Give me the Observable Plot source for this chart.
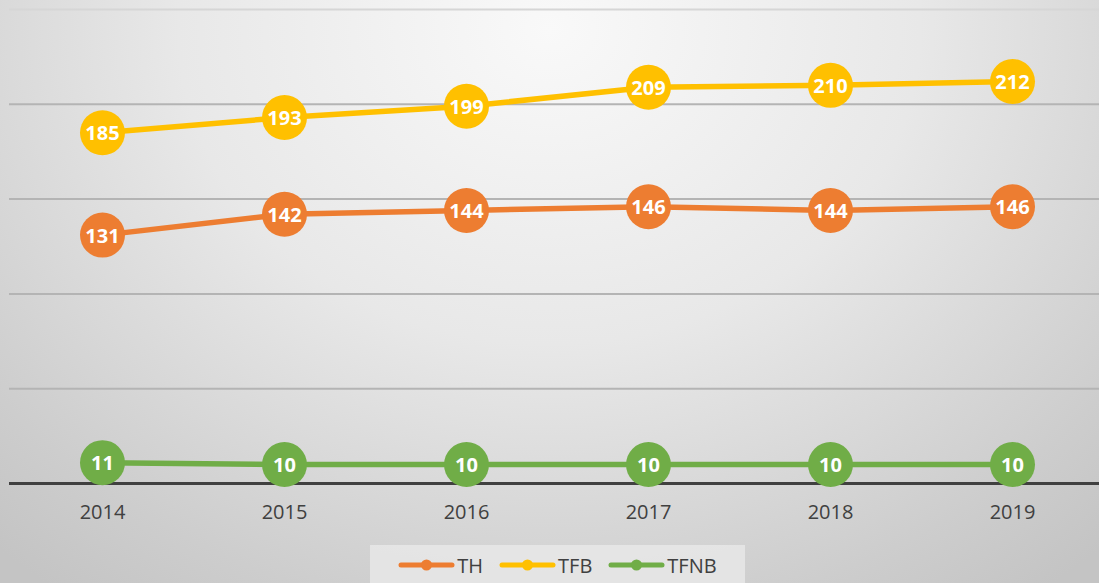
<!DOCTYPE html>
<html>
<head>
<meta charset="utf-8">
<script src="https://cdn.jsdelivr.net/npm/d3@7"></script>
<script src="https://cdn.jsdelivr.net/npm/@observablehq/plot@0.6"></script>
<style>
  html, body { margin: 0; padding: 0; width: 1099px; height: 583px; overflow: hidden; }
  body {
    background: radial-gradient(ellipse 75% 120% at 50% 5%, #f9f9f9 0%, #e8e8e8 45%, #cdcdcd 85%, #c4c4c4 100%);
    font-family: "Open Sans", sans-serif;
    position: relative;
  }
  #chart svg { display: block; background: transparent; }
  #legend {
    position: absolute; left: 370px; top: 545px; width: 375px; height: 40px;
    background: rgba(232,232,232,0.85);
    display: flex; align-items: center; justify-content: center; gap: 0;
    font-size: 20px; color: #404040;
  }
  .item { display: flex; align-items: center; margin-right: 16px; }
  .item:last-child { margin-right: 0; }
  .item svg { margin-right: 2px; }
</style>
</head>
<body>
<div id="chart"></div>
<div id="legend"></div>
<script>
const years = ["2014", "2015", "2016", "2017", "2018", "2019"];
const seriesNames = ["TH", "TFB", "TFNB"];
const seriesColors = ["#ED7D31", "#FFC000", "#70AD47"];
const TH = [131, 142, 144, 146, 144, 146];
const TFB = [185, 193, 199, 209, 210, 212];
const TFNB = [11, 10, 10, 10, 10, 10];
const gridValues = [50, 100, 150, 200, 250];

const seriesValues = [TH, TFB, TFNB];
const data = [];
seriesNames.forEach((s, i) => {
  years.forEach((y, j) => data.push({series: s, year: y, value: seriesValues[i][j]}));
});

const plot = Plot.plot({
  width: 1099,
  height: 540,
  marginTop: 9,
  marginBottom: 57,
  marginLeft: 9,
  marginRight: 0,
  style: {background: "transparent", fontFamily: "'Open Sans', sans-serif"},
  x: {type: "point", domain: years, range: [101, 1013], padding: 0, label: null},
  y: {domain: [0, 250], axis: null},
  color: {domain: seriesNames, range: seriesColors},
  marks: [
    Plot.ruleY(gridValues, {stroke: (d) => d === 250 ? "#d6d6d6" : "#b4b4b4", strokeWidth: 2}),
    Plot.ruleY([0], {stroke: "#404040", strokeWidth: 3}),
    Plot.axisX({tickSize: 0, tickPadding: 21, fontSize: 20, fill: "#404040", color: "#404040"}),
    Plot.line(data, {x: "year", y: "value", z: "series", stroke: "series", strokeWidth: 5.5}),
    Plot.dot(data, {x: "year", y: "value", fill: "series", r: 22.5, stroke: null}),
    Plot.text(data, {x: "year", y: "value", text: (d) => String(d.value), fill: "white", fontSize: 20, fontWeight: "bold", dy: 1})
  ]
});
document.getElementById("chart").appendChild(plot);

const legend = document.getElementById("legend");
seriesNames.forEach((s, i) => {
  const item = document.createElement("div");
  item.className = "item";
  item.innerHTML = `<svg width="57" height="14"><line x1="3" y1="7" x2="54" y2="7" stroke="${seriesColors[i]}" stroke-width="5" stroke-linecap="round"/><circle cx="28.5" cy="7" r="5.5" fill="${seriesColors[i]}"/></svg><span>${s}</span>`;
  legend.appendChild(item);
});
</script>
</body>
</html>
